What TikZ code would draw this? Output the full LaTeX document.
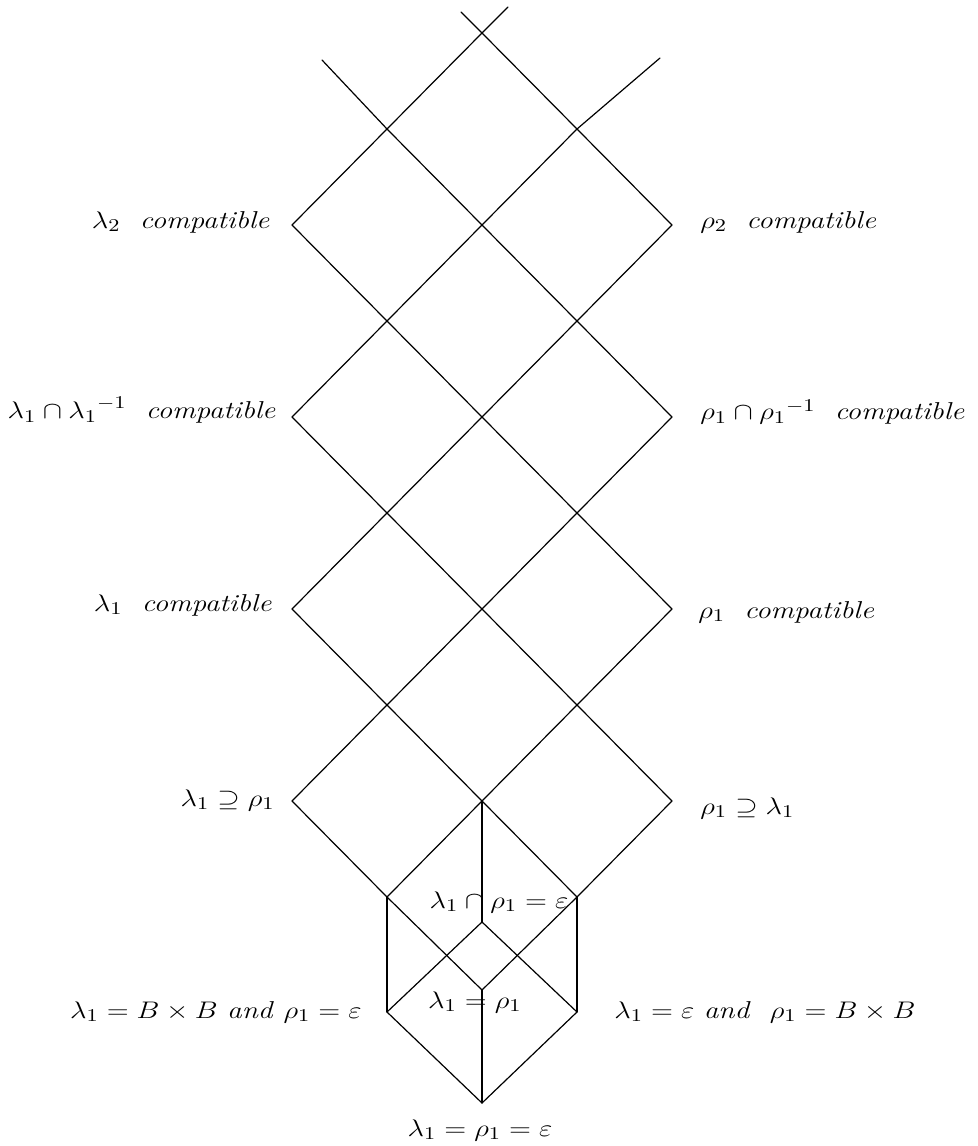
\documentclass[tikz,border=0pt]{standalone}
\newcommand\widelab[1]{\scalebox{1.2}[1]{#1}}
\begin{document}
\begin{tikzpicture}[x=0.5pt,y=-0.5pt,
  edge/.style={line width=0.6pt, line cap=round, line join=round},
  lab/.style={inner sep=0pt, font=\fontsize{12.2}{15}\selectfont}]
\useasboundingbox (0,0) rectangle (978,1146);
% lattice vertices
\coordinate (t0) at (482,33);
\coordinate (a1) at (387,129); \coordinate (b1) at (577,129);
\coordinate (l2) at (292,225); \coordinate (c2) at (482,225); \coordinate (r2) at (672,225);
\coordinate (a3) at (387,321); \coordinate (b3) at (577,321);
\coordinate (l4) at (292,417); \coordinate (c4) at (482,417); \coordinate (r4) at (672,417);
\coordinate (a5) at (387,513); \coordinate (b5) at (577,513);
\coordinate (l6) at (292,609); \coordinate (c6) at (482,609); \coordinate (r6) at (672,609);
\coordinate (a7) at (387,705); \coordinate (b7) at (577,705);
\coordinate (l8) at (292,801); \coordinate (c8) at (482,801); \coordinate (r8) at (672,801);
\coordinate (a9) at (387,897); \coordinate (b9) at (577,897);
\coordinate (P) at (482,922);
\coordinate (L) at (387,1012); \coordinate (R) at (577,1012);
\coordinate (M) at (482,990);
\coordinate (B) at (482,1103);
% free ends
\coordinate (e1) at (322,60); \coordinate (e2) at (660,58);
\coordinate (e3) at (461,12); \coordinate (e4) at (508,7);
% edges
\draw[edge] (e1) -- (a1); \draw[edge] (e2) -- (b1);
\draw[edge] (e3) -- (t0); \draw[edge] (e4) -- (t0);
\draw[edge] (t0) -- (a1); \draw[edge] (t0) -- (b1);
\draw[edge] (a1) -- (l2); \draw[edge] (a1) -- (c2); \draw[edge] (b1) -- (c2); \draw[edge] (b1) -- (r2);
\draw[edge] (l2) -- (a3); \draw[edge] (c2) -- (a3); \draw[edge] (c2) -- (b3); \draw[edge] (r2) -- (b3);
\draw[edge] (a3) -- (l4); \draw[edge] (a3) -- (c4); \draw[edge] (b3) -- (c4); \draw[edge] (b3) -- (r4);
\draw[edge] (l4) -- (a5); \draw[edge] (c4) -- (a5); \draw[edge] (c4) -- (b5); \draw[edge] (r4) -- (b5);
\draw[edge] (a5) -- (l6); \draw[edge] (a5) -- (c6); \draw[edge] (b5) -- (c6); \draw[edge] (b5) -- (r6);
\draw[edge] (l6) -- (a7); \draw[edge] (c6) -- (a7); \draw[edge] (c6) -- (b7); \draw[edge] (r6) -- (b7);
\draw[edge] (a7) -- (l8); \draw[edge] (a7) -- (c8); \draw[edge] (b7) -- (c8); \draw[edge] (b7) -- (r8);
\draw[edge] (l8) -- (a9); \draw[edge] (c8) -- (a9); \draw[edge] (c8) -- (b9); \draw[edge] (r8) -- (b9);
\draw[edge] (a9) -- (L); \draw[edge] (b9) -- (R); \draw[edge] (c8) -- (P);
\draw[edge] (P) -- (L); \draw[edge] (P) -- (R);
\draw[edge] (a9) -- (M); \draw[edge] (b9) -- (M);
\draw[edge] (M) -- (B); \draw[edge] (L) -- (B); \draw[edge] (R) -- (B);
% labels
\node[lab, anchor=east] (nl2) at (270,222) {\widelab{$\lambda_2$\ \ \textit{compatible}}};
\node[lab, anchor=east] (nl4) at (276,410) {\widelab{$\lambda_1 \cap {\lambda_1}^{-1}$\ \ \textit{compatible}}};
\node[lab, anchor=east] (nl6) at (272,605) {\widelab{$\lambda_1$\ \ \textit{compatible}}};
\node[lab, anchor=east] (nl8) at (275,800) {\widelab{$\lambda_1 \supseteq \rho_1$}};
\node[lab, anchor=west] (nr2) at (700,222) {\widelab{$\rho_2$\ \ \textit{compatible}}};
\node[lab, anchor=west] (nr4) at (700,412) {\widelab{$\rho_1 \cap {\rho_1}^{-1}$\ \ \textit{compatible}}};
\node[lab, anchor=west] (nr6) at (698,612) {\widelab{$\rho_1$\ \ \textit{compatible}}};
\node[lab, anchor=west] (nr8) at (700,808) {\widelab{$\rho_1 \supseteq \lambda_1$}};
\node[lab] (nP) at (499,902) {\widelab{$\lambda_1 \cap \rho_1 = \varepsilon$}};
\node[lab] (nM) at (475,1002) {\widelab{$\lambda_1 = \rho_1$}};
\node[lab, anchor=east] (nL) at (362,1012) {\widelab{$\lambda_1 = B \times B$\ \textit{and}\ $\rho_1 = \varepsilon$}};
\node[lab, anchor=west] (nR) at (614,1012) {\widelab{$\lambda_1 = \varepsilon$\ \textit{and}\ \ $\rho_1 = B \times B$}};
\node[lab] (nB) at (480,1130) {\widelab{$\lambda_1 = \rho_1 = \varepsilon$}};
\end{tikzpicture}
\end{document}
